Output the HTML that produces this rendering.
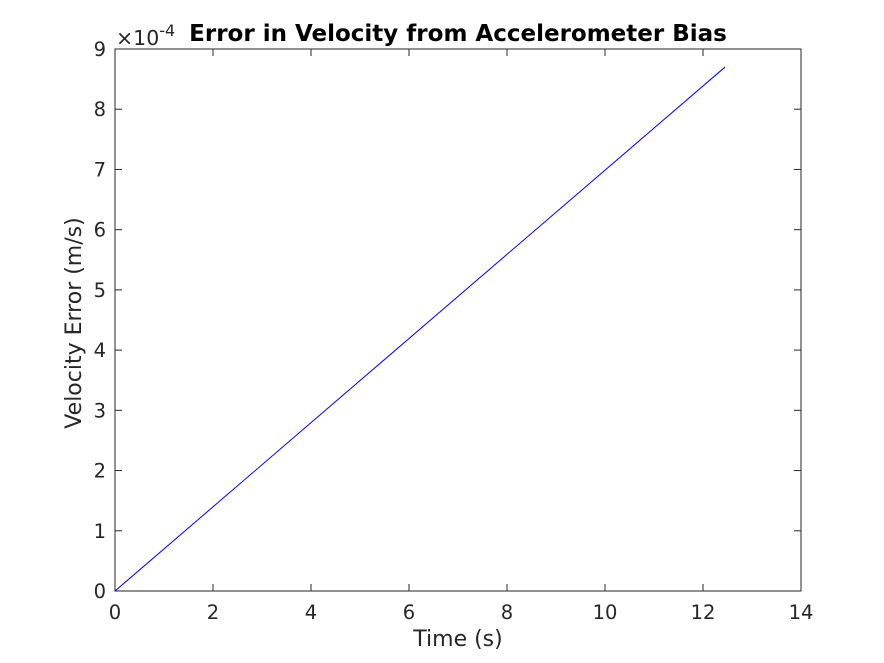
<!DOCTYPE html>
<html><head><meta charset="utf-8"><style>
body{margin:0;background:#fff;}
svg{display:block;font-family:"DejaVu Sans","Liberation Sans",sans-serif;}
</style></head><body>
<svg id="chart" width="884" height="663">
<rect width="884" height="663" fill="#fff"/>
<rect x="115" y="49" width="686" height="542" fill="#fff" stroke="#262626" stroke-width="1"/>
<g id="ticks"></g>
<polyline id="series" fill="none" stroke="#0000ff" stroke-width="1"/>
<text x="458" y="41" text-anchor="middle" font-size="23" font-weight="bold" fill="#000">Error in Velocity from Accelerometer Bias</text>
<text x="458" y="646" text-anchor="middle" font-size="22" fill="#262626">Time (s)</text>
<text transform="translate(81,323) rotate(-90)" text-anchor="middle" font-size="22" fill="#262626">Velocity Error (m/s)</text>
<text x="116" y="45" font-size="20.5" fill="#262626">×10<tspan dy="-9" font-size="16">-4</tspan></text>
</svg>
<script>
const xTicks=[0,2,4,6,8,10,12,14];
const yTicks=[0,1,2,3,4,5,6,7,8,9];
const timeVals=[0,12.45];
const errVals=[0,8.7];
const X0=115,X1=801,Y0=591,Y1=49;
const sx=v=>X0+(v-0)/(14-0)*(X1-X0);
const sy=v=>Y0-(v-0)/(9-0)*(Y0-Y1);
const NS="http://www.w3.org/2000/svg";
const g=document.getElementById('ticks');
function mk(tag,attrs){const e=document.createElementNS(NS,tag);for(const k in attrs)e.setAttribute(k,attrs[k]);return e;}
xTicks.forEach(t=>{
 const x=sx(t);
 const l1=mk('line',{x1:x,x2:x,y1:Y0,y2:Y0-7,stroke:'#262626'});
 
 
 g.appendChild(l1);
 const l2=mk('line',{x1:x,x2:x,y1:Y1,y2:Y1+7,stroke:'#262626'});
 
 
 g.appendChild(l2);
 const tx=mk('text',{x:x,y:Y0+28,'text-anchor':'middle','font-size':'19.5',fill:'#262626'});
 tx.textContent=t;
 
 
 g.appendChild(tx);
});
yTicks.forEach(t=>{
 const y=sy(t);
 const l1=mk('line',{x1:X0,x2:X0+7,y1:y,y2:y,stroke:'#262626'});
 
 
 g.appendChild(l1);
 const l2=mk('line',{x1:X1,x2:X1-7,y1:y,y2:y,stroke:'#262626'});
 
 
 g.appendChild(l2);
 const tx=mk('text',{x:X0-9,y:y+7,'text-anchor':'end','font-size':'19.5',fill:'#262626'});
 tx.textContent=t;
 
 
 g.appendChild(tx);
});
document.getElementById('series').setAttribute('points',timeVals.map((t,i)=>sx(t)+','+sy(errVals[i])).join(' '));
</script>
</body></html>
